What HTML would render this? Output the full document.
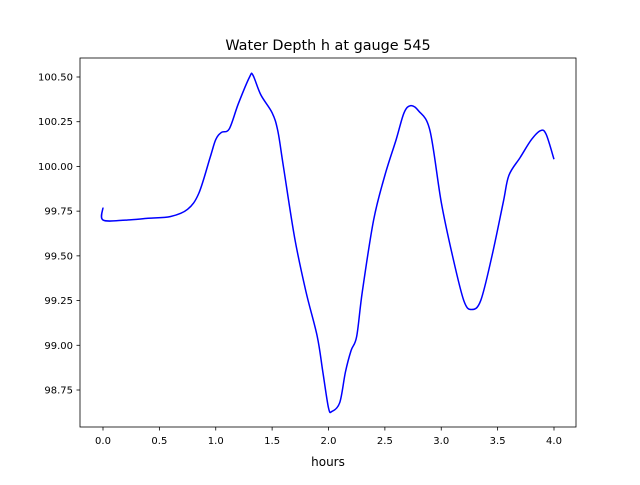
<!DOCTYPE html>
<html><head><meta charset="utf-8"><style>
body{margin:0;background:#fff;}
svg text{font-family:"DejaVu Sans","Liberation Sans",sans-serif;fill:#000;}
</style></head><body>
<svg id="chart" width="640" height="480">
<rect width="640" height="480" fill="#fff"/>
<text x="328" y="50" font-size="14.4" text-anchor="middle">Water Depth h at gauge 545</text>
<g id="axes"></g>
<text x="328" y="466" font-size="12" text-anchor="middle">hours</text>
</svg>
<script>
const hours=[0,0.001,0.2,0.4,0.6,0.75,0.85,0.95,1.0,1.05,1.12,1.2,1.3,1.33,1.4,1.5,1.55,1.6,1.7,1.8,1.9,1.95,2.0,2.03,2.1,2.15,2.2,2.25,2.3,2.4,2.5,2.6,2.67,2.73,2.8,2.9,3.0,3.1,3.2,3.27,3.35,3.45,3.55,3.6,3.7,3.8,3.88,3.93,4.0];
const depth=[99.77,99.70,99.70,99.71,99.72,99.76,99.85,100.05,100.15,100.19,100.21,100.35,100.50,100.51,100.40,100.30,100.20,100.00,99.60,99.30,99.05,98.85,98.65,98.63,98.68,98.85,98.97,99.05,99.30,99.70,99.95,100.15,100.30,100.34,100.31,100.20,99.80,99.50,99.25,99.20,99.25,99.50,99.80,99.95,100.05,100.15,100.20,100.18,100.04];
const xTicks=[0,0.5,1,1.5,2,2.5,3,3.5,4];
const xTickLabels=["0.0","0.5","1.0","1.5","2.0","2.5","3.0","3.5","4.0"];
const yTicks=[98.75,99,99.25,99.5,99.75,100,100.25,100.5];
const yTickLabels=["98.75","99.00","99.25","99.50","99.75","100.00","100.25","100.50"];
const L=80,R=576,T=58,B=427;
const sx=v=>103+v*112.75;
const sy=v=>77+(100.5-v)*178.86;
const g=document.getElementById('axes');
const NS='http://www.w3.org/2000/svg';
function mk(t,a){const e=document.createElementNS(NS,t);for(const k in a)e.setAttribute(k,a[k]);g.appendChild(e);return e;}
let d='M'+sx(hours[0])+','+sy(depth[0]);
for(let i=0;i<hours.length-1;i++){
 const p0=i>0?i-1:i,p3=i+2<hours.length?i+2:i+1;
 const x0=sx(hours[p0]),y0=sy(depth[p0]),x1=sx(hours[i]),y1=sy(depth[i]),x2=sx(hours[i+1]),y2=sy(depth[i+1]),x3=sx(hours[p3]),y3=sy(depth[p3]);
 d+=` C${x1+(x2-x0)/6},${y1+(y2-y0)/6} ${x2-(x3-x1)/6},${y2-(y3-y1)/6} ${x2},${y2}`;
}
const line=mk('path',{d:d,fill:'none',stroke:'#0000ff','stroke-width':1.5});


const frame=mk('rect',{x:L,y:T,width:R-L,height:B-T,fill:'none',stroke:'#000','stroke-width':0.8});


xTicks.forEach((v,i)=>{
 const x=sx(v);
 const t=mk('line',{x1:x,x2:x,y1:B,y2:B+3.5,stroke:'#000','stroke-width':0.8});
 
 
 const l=mk('text',{x:x,y:B+17,'font-size':10,'text-anchor':'middle'});
 l.textContent=xTickLabels[i];
 
 
});
yTicks.forEach((v,i)=>{
 const y=sy(v);
 const t=mk('line',{x1:L-3.5,x2:L,y1:y,y2:y,stroke:'#000','stroke-width':0.8});
 
 
 const l=mk('text',{x:L-7,y:y+3.5,'font-size':10,'text-anchor':'end'});
 l.textContent=yTickLabels[i];
 
 
});
</script>
</body></html>
